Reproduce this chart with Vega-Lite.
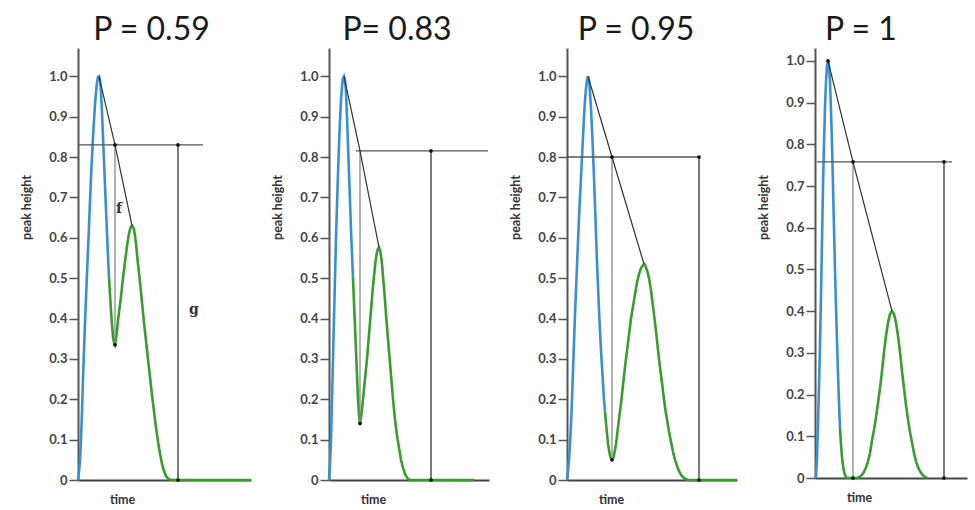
{
"$schema": "https://vega.github.io/schema/vega-lite/v6.json",
"background": "white",
"padding": {"left": 20, "top": 14, "right": 5, "bottom": 5},
"spacing": 78,
"bounds": "flush",
"resolve": {"scale": {"x": "independent", "y": "independent"}},
"config": {
  "view": {"stroke": null},
  "title": {"fontSize": 32, "font": "Lato", "fontWeight": "normal", "color": "#1a1a1a", "offset": 1},
  "axisY": {"grid": false, "labelFont": "Lato", "labelFontWeight": "bold", "labelFontSize": 13, "labelColor": "#444", "tickSize": 9, "tickColor": "#555", "tickWidth": 1.5, "domainColor": "#555", "domainWidth": 2, "labelPadding": 2, "titleFont": "Lato", "titleFontWeight": "bold", "titleFontSize": 12.5, "titleColor": "#333", "titleX": -45, "titleY": 159},
  "axisX": {"grid": false, "labels": false, "ticks": false, "domainColor": "#444", "domainWidth": 2, "titleFont": "Lato", "titleFontWeight": "bold", "titleFontSize": 12.5, "titleColor": "#333", "titleX": 44, "titleY": 13, "titleBaseline": "top"}
},
"datasets": {
  "c": [
    {"p":1,"s":"b","t":0,"y":0},{"p":1,"s":"b","t":1,"y":0.02},{"p":1,"s":"b","t":2,"y":0.05},{"p":1,"s":"b","t":3,"y":0.1},{"p":1,"s":"b","t":4,"y":0.17},{"p":1,"s":"b","t":5,"y":0.25},{"p":1,"s":"b","t":6,"y":0.32},{"p":1,"s":"b","t":7,"y":0.39},{"p":1,"s":"b","t":8,"y":0.45},{"p":1,"s":"b","t":9,"y":0.51},{"p":1,"s":"b","t":10,"y":0.57},{"p":1,"s":"b","t":11,"y":0.63},{"p":1,"s":"b","t":12,"y":0.69},{"p":1,"s":"b","t":13,"y":0.75},{"p":1,"s":"b","t":14,"y":0.8},{"p":1,"s":"b","t":15,"y":0.85},{"p":1,"s":"b","t":16,"y":0.89},{"p":1,"s":"b","t":17,"y":0.93},{"p":1,"s":"b","t":18,"y":0.96},{"p":1,"s":"b","t":19,"y":0.985},{"p":1,"s":"b","t":20,"y":0.998},{"p":1,"s":"b","t":21,"y":1.0},{"p":1,"s":"b","t":22,"y":0.99},{"p":1,"s":"b","t":23,"y":0.96},{"p":1,"s":"b","t":24,"y":0.91},{"p":1,"s":"b","t":25,"y":0.85},{"p":1,"s":"b","t":26,"y":0.79},{"p":1,"s":"b","t":27,"y":0.73},{"p":1,"s":"b","t":28,"y":0.67},{"p":1,"s":"b","t":29,"y":0.61},{"p":1,"s":"b","t":30,"y":0.555},{"p":1,"s":"b","t":31,"y":0.5},
    {"p":1,"s":"g","t":31,"y":0.5},{"p":1,"s":"g","t":32,"y":0.46},{"p":1,"s":"g","t":33,"y":0.42},{"p":1,"s":"g","t":34,"y":0.385},{"p":1,"s":"g","t":35,"y":0.355},{"p":1,"s":"g","t":36,"y":0.34},{"p":1,"s":"g","t":37,"y":0.335},{"p":1,"s":"g","t":38,"y":0.35},{"p":1,"s":"g","t":39,"y":0.37},{"p":1,"s":"g","t":40,"y":0.395},{"p":1,"s":"g","t":41,"y":0.415},{"p":1,"s":"g","t":42,"y":0.435},{"p":1,"s":"g","t":43,"y":0.455},{"p":1,"s":"g","t":44,"y":0.478},{"p":1,"s":"g","t":45,"y":0.5},{"p":1,"s":"g","t":46,"y":0.52},{"p":1,"s":"g","t":47,"y":0.54},{"p":1,"s":"g","t":48,"y":0.56},{"p":1,"s":"g","t":49,"y":0.58},{"p":1,"s":"g","t":50,"y":0.595},{"p":1,"s":"g","t":51,"y":0.61},{"p":1,"s":"g","t":52,"y":0.62},{"p":1,"s":"g","t":53,"y":0.628},{"p":1,"s":"g","t":54,"y":0.63},{"p":1,"s":"g","t":55,"y":0.627},{"p":1,"s":"g","t":56,"y":0.62},{"p":1,"s":"g","t":57,"y":0.605},{"p":1,"s":"g","t":58,"y":0.585},{"p":1,"s":"g","t":59,"y":0.56},{"p":1,"s":"g","t":60,"y":0.535},{"p":1,"s":"g","t":62,"y":0.49},{"p":1,"s":"g","t":64,"y":0.44},{"p":1,"s":"g","t":66,"y":0.39},{"p":1,"s":"g","t":68,"y":0.345},{"p":1,"s":"g","t":70,"y":0.3},{"p":1,"s":"g","t":72,"y":0.255},{"p":1,"s":"g","t":74,"y":0.21},{"p":1,"s":"g","t":76,"y":0.17},{"p":1,"s":"g","t":78,"y":0.13},{"p":1,"s":"g","t":80,"y":0.095},{"p":1,"s":"g","t":82,"y":0.065},{"p":1,"s":"g","t":84,"y":0.04},{"p":1,"s":"g","t":86,"y":0.022},{"p":1,"s":"g","t":88,"y":0.01},{"p":1,"s":"g","t":90,"y":0.004},{"p":1,"s":"g","t":92,"y":0.001},{"p":1,"s":"g","t":94,"y":0},{"p":1,"s":"g","t":173,"y":0},

    {"p":2,"s":"b","t":0,"y":0},{"p":2,"s":"b","t":1,"y":0.04},{"p":2,"s":"b","t":2,"y":0.1},{"p":2,"s":"b","t":3,"y":0.2},{"p":2,"s":"b","t":4,"y":0.3},{"p":2,"s":"b","t":5,"y":0.4},{"p":2,"s":"b","t":6,"y":0.5},{"p":2,"s":"b","t":7,"y":0.6},{"p":2,"s":"b","t":8,"y":0.68},{"p":2,"s":"b","t":9,"y":0.76},{"p":2,"s":"b","t":10,"y":0.83},{"p":2,"s":"b","t":11,"y":0.89},{"p":2,"s":"b","t":12,"y":0.94},{"p":2,"s":"b","t":13,"y":0.975},{"p":2,"s":"b","t":14,"y":0.995},{"p":2,"s":"b","t":15,"y":1.0},{"p":2,"s":"b","t":16,"y":0.99},{"p":2,"s":"b","t":17,"y":0.96},{"p":2,"s":"b","t":18,"y":0.9},{"p":2,"s":"b","t":19,"y":0.83},{"p":2,"s":"b","t":20,"y":0.76},{"p":2,"s":"b","t":21,"y":0.69},{"p":2,"s":"b","t":22,"y":0.62},{"p":2,"s":"b","t":23,"y":0.56},{"p":2,"s":"b","t":24,"y":0.5},
    {"p":2,"s":"g","t":24,"y":0.5},{"p":2,"s":"g","t":25,"y":0.44},{"p":2,"s":"g","t":26,"y":0.38},{"p":2,"s":"g","t":27,"y":0.32},{"p":2,"s":"g","t":28,"y":0.26},{"p":2,"s":"g","t":29,"y":0.2},{"p":2,"s":"g","t":30,"y":0.16},{"p":2,"s":"g","t":31,"y":0.14},{"p":2,"s":"g","t":32,"y":0.155},{"p":2,"s":"g","t":33,"y":0.175},{"p":2,"s":"g","t":34,"y":0.2},{"p":2,"s":"g","t":35,"y":0.225},{"p":2,"s":"g","t":36,"y":0.25},{"p":2,"s":"g","t":37,"y":0.275},{"p":2,"s":"g","t":38,"y":0.3},{"p":2,"s":"g","t":39,"y":0.33},{"p":2,"s":"g","t":40,"y":0.36},{"p":2,"s":"g","t":41,"y":0.39},{"p":2,"s":"g","t":42,"y":0.42},{"p":2,"s":"g","t":43,"y":0.45},{"p":2,"s":"g","t":44,"y":0.48},{"p":2,"s":"g","t":45,"y":0.505},{"p":2,"s":"g","t":46,"y":0.53},{"p":2,"s":"g","t":47,"y":0.55},{"p":2,"s":"g","t":48,"y":0.565},{"p":2,"s":"g","t":49,"y":0.573},{"p":2,"s":"g","t":50,"y":0.576},{"p":2,"s":"g","t":51,"y":0.57},{"p":2,"s":"g","t":52,"y":0.555},{"p":2,"s":"g","t":53,"y":0.535},{"p":2,"s":"g","t":54,"y":0.505},{"p":2,"s":"g","t":55,"y":0.475},{"p":2,"s":"g","t":56,"y":0.445},{"p":2,"s":"g","t":57,"y":0.41},{"p":2,"s":"g","t":58,"y":0.38},{"p":2,"s":"g","t":59,"y":0.35},{"p":2,"s":"g","t":60,"y":0.32},{"p":2,"s":"g","t":61,"y":0.29},{"p":2,"s":"g","t":62,"y":0.26},{"p":2,"s":"g","t":63,"y":0.23},{"p":2,"s":"g","t":64,"y":0.2},{"p":2,"s":"g","t":65,"y":0.175},{"p":2,"s":"g","t":66,"y":0.15},{"p":2,"s":"g","t":67,"y":0.13},{"p":2,"s":"g","t":68,"y":0.11},{"p":2,"s":"g","t":69,"y":0.095},{"p":2,"s":"g","t":70,"y":0.08},{"p":2,"s":"g","t":72,"y":0.05},{"p":2,"s":"g","t":74,"y":0.03},{"p":2,"s":"g","t":76,"y":0.015},{"p":2,"s":"g","t":78,"y":0.006},{"p":2,"s":"g","t":80,"y":0.001},{"p":2,"s":"g","t":82,"y":0},{"p":2,"s":"g","t":145,"y":0},

    {"p":3,"s":"b","t":0,"y":0},{"p":3,"s":"b","t":1,"y":0.02},{"p":3,"s":"b","t":2,"y":0.05},{"p":3,"s":"b","t":3,"y":0.09},{"p":3,"s":"b","t":4,"y":0.14},{"p":3,"s":"b","t":5,"y":0.2},{"p":3,"s":"b","t":6,"y":0.27},{"p":3,"s":"b","t":7,"y":0.34},{"p":3,"s":"b","t":8,"y":0.41},{"p":3,"s":"b","t":9,"y":0.47},{"p":3,"s":"b","t":10,"y":0.53},{"p":3,"s":"b","t":11,"y":0.59},{"p":3,"s":"b","t":12,"y":0.65},{"p":3,"s":"b","t":13,"y":0.7},{"p":3,"s":"b","t":14,"y":0.75},{"p":3,"s":"b","t":15,"y":0.8},{"p":3,"s":"b","t":16,"y":0.85},{"p":3,"s":"b","t":17,"y":0.9},{"p":3,"s":"b","t":18,"y":0.94},{"p":3,"s":"b","t":19,"y":0.97},{"p":3,"s":"b","t":20,"y":0.99},{"p":3,"s":"b","t":21,"y":1.0},{"p":3,"s":"b","t":22,"y":0.99},{"p":3,"s":"b","t":23,"y":0.96},{"p":3,"s":"b","t":24,"y":0.92},{"p":3,"s":"b","t":25,"y":0.87},{"p":3,"s":"b","t":26,"y":0.81},{"p":3,"s":"b","t":27,"y":0.75},{"p":3,"s":"b","t":28,"y":0.68},{"p":3,"s":"b","t":29,"y":0.61},{"p":3,"s":"b","t":30,"y":0.54},{"p":3,"s":"b","t":31,"y":0.48},{"p":3,"s":"b","t":32,"y":0.42},{"p":3,"s":"b","t":33,"y":0.37},{"p":3,"s":"b","t":34,"y":0.32},{"p":3,"s":"b","t":35,"y":0.28},{"p":3,"s":"b","t":36,"y":0.24},{"p":3,"s":"b","t":37,"y":0.2},{"p":3,"s":"b","t":38,"y":0.17},
    {"p":3,"s":"g","t":38,"y":0.17},{"p":3,"s":"g","t":39,"y":0.14},{"p":3,"s":"g","t":40,"y":0.115},{"p":3,"s":"g","t":41,"y":0.09},{"p":3,"s":"g","t":42,"y":0.075},{"p":3,"s":"g","t":43,"y":0.06},{"p":3,"s":"g","t":44,"y":0.053},{"p":3,"s":"g","t":45,"y":0.05},{"p":3,"s":"g","t":46,"y":0.053},{"p":3,"s":"g","t":47,"y":0.062},{"p":3,"s":"g","t":48,"y":0.075},{"p":3,"s":"g","t":49,"y":0.09},{"p":3,"s":"g","t":50,"y":0.11},{"p":3,"s":"g","t":52,"y":0.15},{"p":3,"s":"g","t":54,"y":0.19},{"p":3,"s":"g","t":56,"y":0.235},{"p":3,"s":"g","t":58,"y":0.28},{"p":3,"s":"g","t":60,"y":0.32},{"p":3,"s":"g","t":62,"y":0.36},{"p":3,"s":"g","t":64,"y":0.4},{"p":3,"s":"g","t":66,"y":0.43},{"p":3,"s":"g","t":68,"y":0.46},{"p":3,"s":"g","t":70,"y":0.49},{"p":3,"s":"g","t":72,"y":0.51},{"p":3,"s":"g","t":74,"y":0.525},{"p":3,"s":"g","t":76,"y":0.532},{"p":3,"s":"g","t":77,"y":0.535},{"p":3,"s":"g","t":78,"y":0.533},{"p":3,"s":"g","t":80,"y":0.52},{"p":3,"s":"g","t":82,"y":0.5},{"p":3,"s":"g","t":84,"y":0.47},{"p":3,"s":"g","t":86,"y":0.43},{"p":3,"s":"g","t":88,"y":0.39},{"p":3,"s":"g","t":90,"y":0.345},{"p":3,"s":"g","t":92,"y":0.3},{"p":3,"s":"g","t":94,"y":0.26},{"p":3,"s":"g","t":96,"y":0.22},{"p":3,"s":"g","t":98,"y":0.18},{"p":3,"s":"g","t":100,"y":0.15},{"p":3,"s":"g","t":102,"y":0.12},{"p":3,"s":"g","t":104,"y":0.095},{"p":3,"s":"g","t":106,"y":0.07},{"p":3,"s":"g","t":108,"y":0.05},{"p":3,"s":"g","t":110,"y":0.035},{"p":3,"s":"g","t":112,"y":0.022},{"p":3,"s":"g","t":114,"y":0.013},{"p":3,"s":"g","t":116,"y":0.007},{"p":3,"s":"g","t":118,"y":0.003},{"p":3,"s":"g","t":121,"y":0},{"p":3,"s":"g","t":170,"y":0},

    {"p":4,"s":"b","t":1,"y":0},{"p":4,"s":"b","t":2,"y":0.05},{"p":4,"s":"b","t":3,"y":0.13},{"p":4,"s":"b","t":4,"y":0.22},{"p":4,"s":"b","t":5,"y":0.32},{"p":4,"s":"b","t":6,"y":0.44},{"p":4,"s":"b","t":7,"y":0.57},{"p":4,"s":"b","t":8,"y":0.7},{"p":4,"s":"b","t":9,"y":0.8},{"p":4,"s":"b","t":10,"y":0.89},{"p":4,"s":"b","t":11,"y":0.95},{"p":4,"s":"b","t":12,"y":0.99},{"p":4,"s":"b","t":13,"y":1.0},{"p":4,"s":"b","t":14,"y":0.99},{"p":4,"s":"b","t":15,"y":0.95},{"p":4,"s":"b","t":16,"y":0.88},{"p":4,"s":"b","t":17,"y":0.8},{"p":4,"s":"b","t":18,"y":0.7},{"p":4,"s":"b","t":19,"y":0.6},{"p":4,"s":"b","t":20,"y":0.5},{"p":4,"s":"b","t":21,"y":0.41},{"p":4,"s":"b","t":22,"y":0.33},{"p":4,"s":"b","t":23,"y":0.25},{"p":4,"s":"b","t":24,"y":0.18},{"p":4,"s":"b","t":25,"y":0.12},
    {"p":4,"s":"g","t":25,"y":0.12},{"p":4,"s":"g","t":26,"y":0.08},{"p":4,"s":"g","t":27,"y":0.05},{"p":4,"s":"g","t":28,"y":0.03},{"p":4,"s":"g","t":29,"y":0.015},{"p":4,"s":"g","t":30,"y":0.007},{"p":4,"s":"g","t":31,"y":0.002},{"p":4,"s":"g","t":32,"y":0},{"p":4,"s":"g","t":42,"y":0},{"p":4,"s":"g","t":45,"y":0.003},{"p":4,"s":"g","t":47,"y":0.008},{"p":4,"s":"g","t":49,"y":0.015},{"p":4,"s":"g","t":51,"y":0.025},{"p":4,"s":"g","t":53,"y":0.04},{"p":4,"s":"g","t":55,"y":0.06},{"p":4,"s":"g","t":57,"y":0.09},{"p":4,"s":"g","t":59,"y":0.115},{"p":4,"s":"g","t":61,"y":0.145},{"p":4,"s":"g","t":63,"y":0.18},{"p":4,"s":"g","t":65,"y":0.215},{"p":4,"s":"g","t":67,"y":0.256},{"p":4,"s":"g","t":69,"y":0.301},{"p":4,"s":"g","t":71,"y":0.341},{"p":4,"s":"g","t":73,"y":0.372},{"p":4,"s":"g","t":75,"y":0.393},{"p":4,"s":"g","t":77,"y":0.4},{"p":4,"s":"g","t":79,"y":0.393},{"p":4,"s":"g","t":81,"y":0.372},{"p":4,"s":"g","t":83,"y":0.341},{"p":4,"s":"g","t":85,"y":0.301},{"p":4,"s":"g","t":87,"y":0.256},{"p":4,"s":"g","t":89,"y":0.215},{"p":4,"s":"g","t":91,"y":0.175},{"p":4,"s":"g","t":93,"y":0.14},{"p":4,"s":"g","t":95,"y":0.11},{"p":4,"s":"g","t":97,"y":0.085},{"p":4,"s":"g","t":99,"y":0.06},{"p":4,"s":"g","t":101,"y":0.04},{"p":4,"s":"g","t":103,"y":0.026},{"p":4,"s":"g","t":105,"y":0.016},{"p":4,"s":"g","t":107,"y":0.009},{"p":4,"s":"g","t":109,"y":0.004},{"p":4,"s":"g","t":112,"y":0}
  ],
  "s": [
    {"p":1,"k":"h","t":0,"y":0.83,"t2":125,"y2":0.83},{"p":1,"k":"g","t":100,"y":0,"t2":100,"y2":0.83},{"p":1,"k":"f","t":37,"y":0.335,"t2":37,"y2":0.83},
    {"p":2,"k":"h","t":27,"y":0.815,"t2":159,"y2":0.815},{"p":2,"k":"g","t":102,"y":0,"t2":102,"y2":0.815},{"p":2,"k":"f","t":31,"y":0.14,"t2":31,"y2":0.815},
    {"p":3,"k":"h","t":0,"y":0.8,"t2":133,"y2":0.8},{"p":3,"k":"g","t":132,"y":0,"t2":132,"y2":0.8},{"p":3,"k":"f","t":45,"y":0.05,"t2":45,"y2":0.8},
    {"p":4,"k":"h","t":2,"y":0.758,"t2":137,"y2":0.758},{"p":4,"k":"g","t":129,"y":0,"t2":129,"y2":0.758},{"p":4,"k":"f","t":38,"y":0,"t2":38,"y2":0.758}
  ],
  "k": [
    {"p":1,"t":21,"y":1.0},{"p":1,"t":37,"y":0.83},{"p":1,"t":54,"y":0.63},
    {"p":2,"t":15,"y":1.0},{"p":2,"t":31,"y":0.815},{"p":2,"t":50,"y":0.576},
    {"p":3,"t":21,"y":1.0},{"p":3,"t":45,"y":0.8},{"p":3,"t":77,"y":0.535},
    {"p":4,"t":13,"y":1.0},{"p":4,"t":38,"y":0.758},{"p":4,"t":77,"y":0.4}
  ],
  "d": [
    {"p":1,"t":37,"y":0.83},{"p":1,"t":37,"y":0.335},{"p":1,"t":100,"y":0.83},{"p":1,"t":100,"y":0},
    {"p":2,"t":31,"y":0.14},{"p":2,"t":102,"y":0.815},{"p":2,"t":102,"y":0},
    {"p":3,"t":45,"y":0.8},{"p":3,"t":45,"y":0.05},{"p":3,"t":132,"y":0.8},{"p":3,"t":132,"y":0},
    {"p":4,"t":13,"y":1.0},{"p":4,"t":38,"y":0.758},{"p":4,"t":38,"y":0},{"p":4,"t":129,"y":0.758},{"p":4,"t":129,"y":0}
  ],
  "lab": [
    {"p":1,"t":41,"y":0.67,"txt":"f"},{"p":1,"t":116,"y":0.42,"txt":"g"}
  ]
},
"hconcat": [
  {
    "width": 173, "height": 432,
    "title": {"text": "P = 0.59", "dx": -13},
    "encoding": {
      "x": {"field": "t", "type": "quantitative", "scale": {"domain": [0, 173], "nice": false, "zero": false}, "axis": {"title": "time"}},
      "y": {"field": "y", "type": "quantitative", "scale": {"domain": [0, 1.07], "nice": false}, "axis": {"title": "peak height", "values": [0,0.1,0.2,0.3,0.4,0.5,0.6,0.7,0.8,0.9,1.0], "labelExpr": "datum.value == 0 ? '0' : format(datum.value, '.1f')"}}
    },
    "layer": [
      {"data": {"name": "c"}, "transform": [{"filter": "datum.p == 1 && datum.s == 'g'"}], "mark": {"type": "line", "color": "#3a9c2e", "strokeWidth": 2.6}},
      {"data": {"name": "c"}, "transform": [{"filter": "datum.p == 1 && datum.s == 'b'"}], "mark": {"type": "line", "color": "#3a8fd3", "strokeWidth": 2.6}},
      {"data": {"name": "s"}, "transform": [{"filter": "datum.p == 1"}], "mark": {"type": "rule", "strokeWidth": 1.3}, "encoding": {"x2": {"field": "t2"}, "y2": {"field": "y2"}, "color": {"field": "k", "type": "nominal", "scale": {"domain": ["h","g","f"], "range": ["#555","#333","#888"]}, "legend": null}}},
      {"data": {"name": "k"}, "transform": [{"filter": "datum.p == 1"}], "mark": {"type": "line", "color": "#333", "strokeWidth": 1.2}},
      {"data": {"name": "d"}, "transform": [{"filter": "datum.p == 1"}], "mark": {"type": "point", "filled": true, "color": "#111", "size": 14, "opacity": 1}},
      {"data": {"name": "lab"}, "transform": [{"filter": "datum.p == 1"}], "mark": {"type": "text", "font": "DejaVu Serif", "fontWeight": "bold", "fontSize": 14, "color": "#333"}, "encoding": {"text": {"field": "txt"}}}
    ]
  },
  {
    "width": 160, "height": 432,
    "title": {"text": "P= 0.83", "dx": -12},
    "encoding": {
      "x": {"field": "t", "type": "quantitative", "scale": {"domain": [0, 160], "nice": false, "zero": false}, "axis": {"title": "time"}},
      "y": {"field": "y", "type": "quantitative", "scale": {"domain": [0, 1.07], "nice": false}, "axis": {"title": "peak height", "values": [0,0.1,0.2,0.3,0.4,0.5,0.6,0.7,0.8,0.9,1.0], "labelExpr": "datum.value == 0 ? '0' : format(datum.value, '.1f')"}}
    },
    "layer": [
      {"data": {"name": "c"}, "transform": [{"filter": "datum.p == 2 && datum.s == 'g'"}], "mark": {"type": "line", "color": "#3a9c2e", "strokeWidth": 2.6}},
      {"data": {"name": "c"}, "transform": [{"filter": "datum.p == 2 && datum.s == 'b'"}], "mark": {"type": "line", "color": "#3a8fd3", "strokeWidth": 2.6}},
      {"data": {"name": "s"}, "transform": [{"filter": "datum.p == 2"}], "mark": {"type": "rule", "strokeWidth": 1.3}, "encoding": {"x2": {"field": "t2"}, "y2": {"field": "y2"}, "color": {"field": "k", "type": "nominal", "scale": {"domain": ["h","g","f"], "range": ["#555","#333","#888"]}, "legend": null}}},
      {"data": {"name": "k"}, "transform": [{"filter": "datum.p == 2"}], "mark": {"type": "line", "color": "#333", "strokeWidth": 1.2}},
      {"data": {"name": "d"}, "transform": [{"filter": "datum.p == 2"}], "mark": {"type": "point", "filled": true, "color": "#111", "size": 14, "opacity": 1}}
    ]
  },
  {
    "width": 170, "height": 432,
    "title": {"text": "P = 0.95", "dx": -16},
    "encoding": {
      "x": {"field": "t", "type": "quantitative", "scale": {"domain": [0, 170], "nice": false, "zero": false}, "axis": {"title": "time"}},
      "y": {"field": "y", "type": "quantitative", "scale": {"domain": [0, 1.07], "nice": false}, "axis": {"title": "peak height", "values": [0,0.1,0.2,0.3,0.4,0.5,0.6,0.7,0.8,0.9,1.0], "labelExpr": "datum.value == 0 ? '0' : format(datum.value, '.1f')"}}
    },
    "layer": [
      {"data": {"name": "c"}, "transform": [{"filter": "datum.p == 3 && datum.s == 'g'"}], "mark": {"type": "line", "color": "#3a9c2e", "strokeWidth": 2.6}},
      {"data": {"name": "c"}, "transform": [{"filter": "datum.p == 3 && datum.s == 'b'"}], "mark": {"type": "line", "color": "#3a8fd3", "strokeWidth": 2.6}},
      {"data": {"name": "s"}, "transform": [{"filter": "datum.p == 3"}], "mark": {"type": "rule", "strokeWidth": 1.3}, "encoding": {"x2": {"field": "t2"}, "y2": {"field": "y2"}, "color": {"field": "k", "type": "nominal", "scale": {"domain": ["h","g","f"], "range": ["#555","#333","#888"]}, "legend": null}}},
      {"data": {"name": "k"}, "transform": [{"filter": "datum.p == 3"}], "mark": {"type": "line", "color": "#333", "strokeWidth": 1.2}},
      {"data": {"name": "d"}, "transform": [{"filter": "datum.p == 3"}], "mark": {"type": "point", "filled": true, "color": "#111", "size": 14, "opacity": 1}}
    ]
  },
  {
    "width": 152, "height": 430,
    "title": {"text": "P = 1", "dx": -30},
    "encoding": {
      "x": {"field": "t", "type": "quantitative", "scale": {"domain": [0, 152], "nice": false, "zero": false}, "axis": {"title": "time"}},
      "y": {"field": "y", "type": "quantitative", "scale": {"domain": [0, 1.031], "nice": false}, "axis": {"title": "peak height", "values": [0,0.1,0.2,0.3,0.4,0.5,0.6,0.7,0.8,0.9,1.0], "labelExpr": "datum.value == 0 ? '0' : format(datum.value, '.1f')"}}
    },
    "layer": [
      {"data": {"name": "c"}, "transform": [{"filter": "datum.p == 4 && datum.s == 'g'"}], "mark": {"type": "line", "color": "#3a9c2e", "strokeWidth": 2.6}},
      {"data": {"name": "c"}, "transform": [{"filter": "datum.p == 4 && datum.s == 'b'"}], "mark": {"type": "line", "color": "#3a8fd3", "strokeWidth": 2.6}},
      {"data": {"name": "s"}, "transform": [{"filter": "datum.p == 4"}], "mark": {"type": "rule", "strokeWidth": 1.3}, "encoding": {"x2": {"field": "t2"}, "y2": {"field": "y2"}, "color": {"field": "k", "type": "nominal", "scale": {"domain": ["h","g","f"], "range": ["#555","#333","#888"]}, "legend": null}}},
      {"data": {"name": "k"}, "transform": [{"filter": "datum.p == 4"}], "mark": {"type": "line", "color": "#333", "strokeWidth": 1.2}},
      {"data": {"name": "d"}, "transform": [{"filter": "datum.p == 4"}], "mark": {"type": "point", "filled": true, "color": "#111", "size": 14, "opacity": 1}}
    ]
  }
]
}
